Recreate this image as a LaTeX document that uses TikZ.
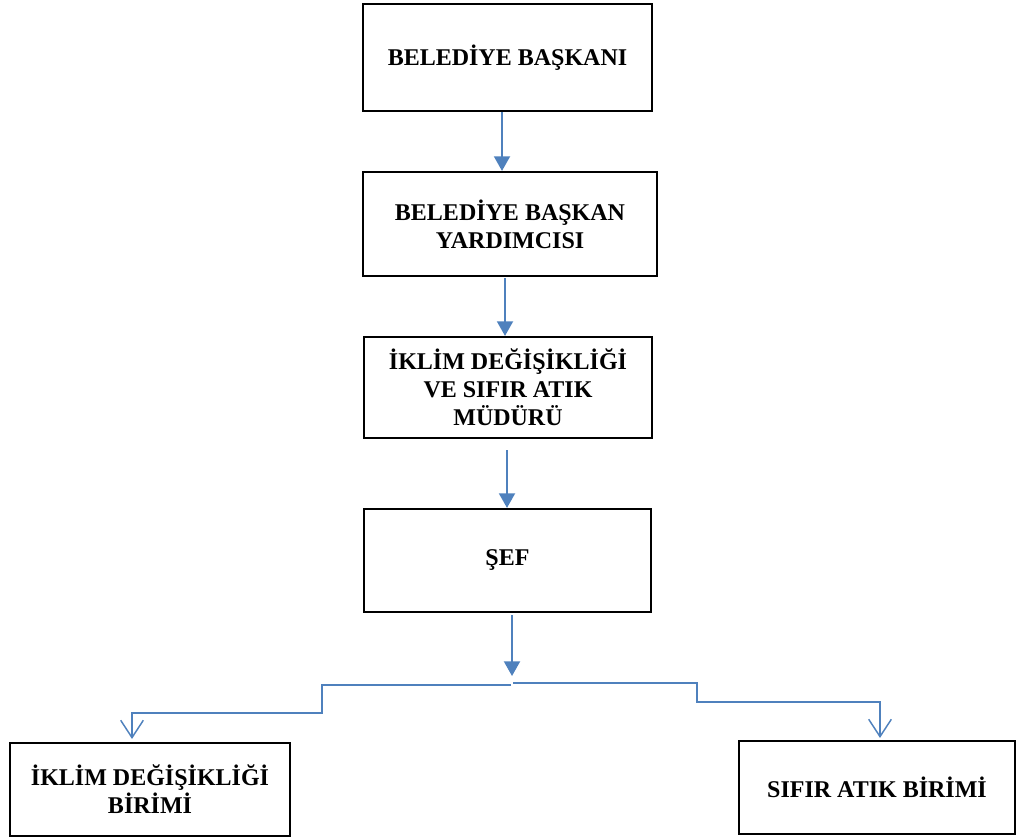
\documentclass[tikz,border=0pt]{standalone}
\usepackage{fontspec}
\setmainfont{Liberation Serif}
\usetikzlibrary{arrows.meta,calc}
\definecolor{okmavi}{RGB}{79,129,189}

\begin{document}
\begin{tikzpicture}[x=0.75pt,y=-0.75pt,
  kutu/.style={draw,line width=1.6pt,inner sep=0pt,align=center,
    font=\fontsize{18}{21}\selectfont\bfseries},
  ok/.style={draw=okmavi,line width=1.5pt,-{Triangle[length=11pt,width=12pt]}},
  dal/.style={draw=okmavi,line width=1.1pt,-{Straight Barb[length=13pt,width=17pt]}}]
\useasboundingbox (0,0) rectangle (1017,839);

\node [kutu,minimum width=216.75pt,minimum height=80.25pt] (baskan) at (507.5,57.5)
{BELED\.IYE BAŞKANI};
\node [kutu,minimum width=220.5pt,minimum height=78pt] (yardimci) at (510,224)
{BELED\.IYE BAŞKAN\\YARDIMCISI};
\node [kutu,minimum width=216pt,minimum height=75.75pt] (mudur) at (508,387.5)
{\.IKL\.IM DEĞ\.IŞ\.IKL\.IĞ\.I\\VE SIFIR ATIK\\MÜDÜRÜ};
\node [kutu,minimum width=215.25pt,minimum height=77.25pt] (sef) at (507.5,560.5)
{ŞEF};
\node [kutu,minimum width=210pt,minimum height=69.75pt] (iklim) at (150,789.5)
{\.IKL\.IM DEĞ\.IŞ\.IKL\.IĞ\.I\\B\.IR\.IM\.I};
\node [kutu,minimum width=207pt,minimum height=69.75pt] (atik) at (877,787.5)
{SIFIR ATIK B\.IR\.IM\.I};

% ana hat
\draw[ok] ($(baskan.south)+(-5.5,0)$) -- ($(yardimci.north)+(-8,0)$);
\draw[ok] ($(yardimci.south)+(-5,1)$) -- ($(mudur.north)+(-3,0)$);
\draw[ok] ($(mudur.south)+(-1,11)$) -- ($(sef.north)+(-0.5,0)$);
\coordinate (ayrim) at (512,676);
\draw[ok] ($(sef.south)+(4.5,2)$) -- (ayrim);

% birimlere dallar
\coordinate (sol) at (132,713);
\coordinate (sag) at (880,702);
\draw[dal] ($(ayrim)+(-1,9)$) -- (322,685) -- (322,713) -- (sol) -- ($(sol |- iklim.north)+(0,-3)$);
\draw[dal] ($(ayrim)+(1,7)$) -- (697,683) -- (697,702) -- (sag) -- ($(sag |- atik.north)+(0,-2)$);
\end{tikzpicture}
\end{document}
